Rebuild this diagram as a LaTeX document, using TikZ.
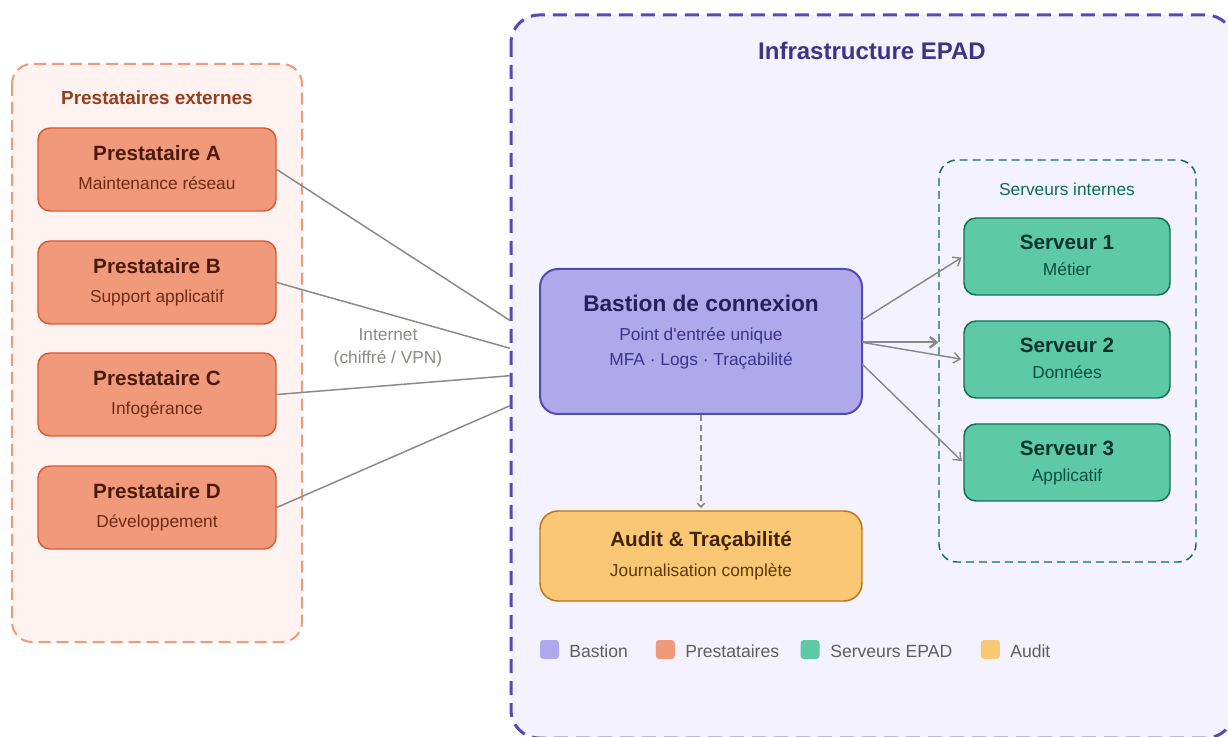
\documentclass[tikz,border=0pt]{standalone}
\usepackage{fontspec}
\setmainfont{Liberation Sans}[Ligatures=TeXOff]
\usetikzlibrary{arrows.meta}
\definecolor{pFill}{HTML}{F0997B}
\definecolor{pBorder}{HTML}{D85A30}
\definecolor{pTitle}{HTML}{4A1B0C}
\definecolor{pSub}{HTML}{712B13}
\definecolor{pGrpFill}{HTML}{FEF3F0}
\definecolor{pGrpBorder}{HTML}{F0997B}
\definecolor{pGrpTitle}{HTML}{993C1D}
\definecolor{iFill}{HTML}{F4F2FE}
\definecolor{iBorder}{HTML}{534AB7}
\definecolor{iTitle}{HTML}{3C3489}
\definecolor{bFill}{HTML}{AFA9EC}
\definecolor{bBorder}{HTML}{534AB7}
\definecolor{bTitle}{HTML}{26215C}
\definecolor{bSub}{HTML}{3C3489}
\definecolor{sFill}{HTML}{5DCAA5}
\definecolor{sBorder}{HTML}{0F6E56}
\definecolor{sTitle}{HTML}{04342C}
\definecolor{sSub}{HTML}{085041}
\definecolor{sGrp}{HTML}{0F6E56}
\definecolor{aFill}{HTML}{FAC775}
\definecolor{aBorder}{HTML}{BA7517}
\definecolor{aTitle}{HTML}{412402}
\definecolor{aSub}{HTML}{633806}
\definecolor{conn}{HTML}{8A8985}
\definecolor{legTxt}{HTML}{5F5E5A}
\begin{document}
\begin{tikzpicture}[x=0.75pt,y=-0.75pt,
  every node/.style={inner sep=0pt},
  ttl/.style={anchor=base, font=\fontsize{15.5}{18}\selectfont\bfseries},
  sub/.style={anchor=base, font=\fontsize{13}{16}\selectfont},
  pbox/.style={draw=pBorder, fill=pFill, line width=1.1pt, rounded corners=9pt, minimum width=178.5pt, minimum height=62.25pt},
  sbox/.style={draw=sBorder, fill=sFill, line width=1.1pt, rounded corners=9pt, minimum width=154.5pt, minimum height=57.75pt},
  link/.style={draw=conn, line width=1.1pt},
  arr/.style={draw=conn, line width=1.1pt, -{Straight Barb[length=5pt,width=8pt]}, shorten >=1.5pt},
  legsq/.style={rounded corners=2.5pt, minimum width=14.25pt, minimum height=14.25pt},
  legtxt/.style={anchor=base west, text=legTxt, font=\fontsize{13.2}{16}\selectfont}
]
\useasboundingbox (0,0) rectangle (1228,737);
\fill[white] (0,0) rectangle (1228,737);

% ---------- groups ----------
\draw[pGrpBorder, fill=pGrpFill, line width=1.5pt, dash pattern=on 9pt off 4.5pt, rounded corners=15pt]
  (12,64) rectangle (302,642);
\node[anchor=base, text=pGrpTitle, font=\fontsize{14.2}{17}\selectfont\bfseries] (pgt) at (157,104.3) {Prestataires externes};

\begin{scope}
\clip (0,0) rectangle (1228,737);
\draw[iBorder, fill=iFill, line width=2.25pt, dash pattern=on 10.5pt off 6pt, rounded corners=21pt]
  (511,15) rectangle (1234,738);
\end{scope}
\node[anchor=base, text=iTitle, font=\fontsize{18}{21}\selectfont\bfseries] (igt) at (872,60) {Infrastructure EPAD};

\draw[sGrp, line width=1.1pt, dash pattern=on 6pt off 3.75pt, rounded corners=13.5pt]
  (939,160) rectangle (1196,562);
\coordinate (sgw) at (939,361);
\node[anchor=base, text=sGrp, font=\fontsize{13}{16}\selectfont] (sgt) at (1067,195.5) {Serveurs internes};

% ---------- prestataires ----------
\node[pbox] (pa) at (157,169.5) {};
\node[ttl, text=pTitle] (pat) at (157,160.3) {Prestataire A};
\node[sub, text=pSub] (pas) at (157,189.2) {Maintenance réseau};

\node[pbox] (pb) at (157,282.5) {};
\node[ttl, text=pTitle] (pbt) at (157,273.3) {Prestataire B};
\node[sub, text=pSub] (pbs) at (157,302.2) {Support applicatif};

\node[pbox] (pc) at (157,394.5) {};
\node[ttl, text=pTitle] (pct) at (157,385.3) {Prestataire C};
\node[sub, text=pSub] (pcs) at (157,414.2) {Infogérance};

\node[pbox] (pd) at (157,507.5) {};
\node[ttl, text=pTitle] (pdt) at (157,498.3) {Prestataire D};
\node[sub, text=pSub] (pds) at (157,527.2) {Développement};

% ---------- internet links ----------
\coordinate (ia) at (510,320.5);
\coordinate (ib) at (510,348.3);
\coordinate (ic) at (510,375.7);
\coordinate (id) at (510,405.7);
\draw[link] (pa.east) -- (ia);
\draw[link] (pb.east) -- (ib);
\draw[link] (pc.east) -- (ic);
\draw[link] (pd.east) -- (id);
\node[anchor=base, text=conn, font=\fontsize{13}{16}\selectfont] (inet1) at (388,340.5) {Internet};
\node[anchor=base, text=conn, font=\fontsize{13}{16}\selectfont] (inet2) at (388,364) {(chiffré / VPN)};

% ---------- bastion ----------
\node[draw=bBorder, fill=bFill, line width=1.5pt, rounded corners=13.5pt, minimum width=241.5pt, minimum height=108.75pt] (bas) at (701,341.5) {};
\node[anchor=base, text=bTitle, font=\fontsize{17}{20}\selectfont\bfseries] (bast) at (701,311.5) {Bastion de connexion};
\node[sub, text=bSub] (bass1) at (701,341) {Point d'entrée unique};
\node[sub, text=bSub] (bass2) at (701,366) {MFA · Logs · Traçabilité};

% ---------- audit ----------
\node[draw=aBorder, fill=aFill, line width=1.1pt, rounded corners=13.5pt, minimum width=241.5pt, minimum height=67.5pt] (aud) at (701,556) {};
\node[ttl, text=aTitle] (audt) at (701,546.5) {Audit \& Traçabilité};
\node[sub, text=aSub] (auds) at (701,576) {Journalisation complète};
\draw[draw=conn, line width=1.1pt, dash pattern=on 4.5pt off 3pt, -{Straight Barb[length=3pt,width=5.5pt]}, shorten >=1.5pt] (bas.south) -- (aud.north);

% ---------- servers ----------
\node[sbox] (s1) at (1067,256.5) {};
\node[ttl, text=sTitle] (s1t) at (1067,250) {Serveur 1};
\node[sub, text=sSub] (s1s) at (1067,276) {Métier};

\node[sbox] (s2) at (1067,359.5) {};
\node[ttl, text=sTitle] (s2t) at (1067,353) {Serveur 2};
\node[sub, text=sSub] (s2s) at (1067,379) {Données};

\node[sbox] (s3) at (1067,462.5) {};
\node[ttl, text=sTitle] (s3t) at (1067,456) {Serveur 3};
\node[sub, text=sSub] (s3s) at (1067,482) {Applicatif};

% ---------- bastion -> servers ----------
\coordinate (b1) at (862,320);
\coordinate (b2) at (862,342.3);
\coordinate (b3) at (862,364);
\draw[arr] (b1) -- (s1.west);
\draw[arr, line width=1.8pt, shorten >=0.5pt] (b2) -- (b2 -| sgw);
\draw[arr] (b2) -- (s2.west);
\draw[arr] (b3) -- (s3.west);

% ---------- legend ----------
\node[legsq, fill=bFill] (lq1) at (549.5,649.5) {};
\node[legtxt] (lt1) at (569,657) {Bastion};
\node[legsq, fill=pFill] (lq2) at (665.3,649.5) {};
\node[legtxt] (lt2) at (685,657) {Prestataires};
\node[legsq, fill=sFill] (lq3) at (810,649.5) {};
\node[legtxt] (lt3) at (830,657) {Serveurs EPAD};
\node[legsq, fill=aFill] (lq4) at (990.3,649.5) {};
\node[legtxt] (lt4) at (1010,657) {Audit};
\end{tikzpicture}
\end{document}
